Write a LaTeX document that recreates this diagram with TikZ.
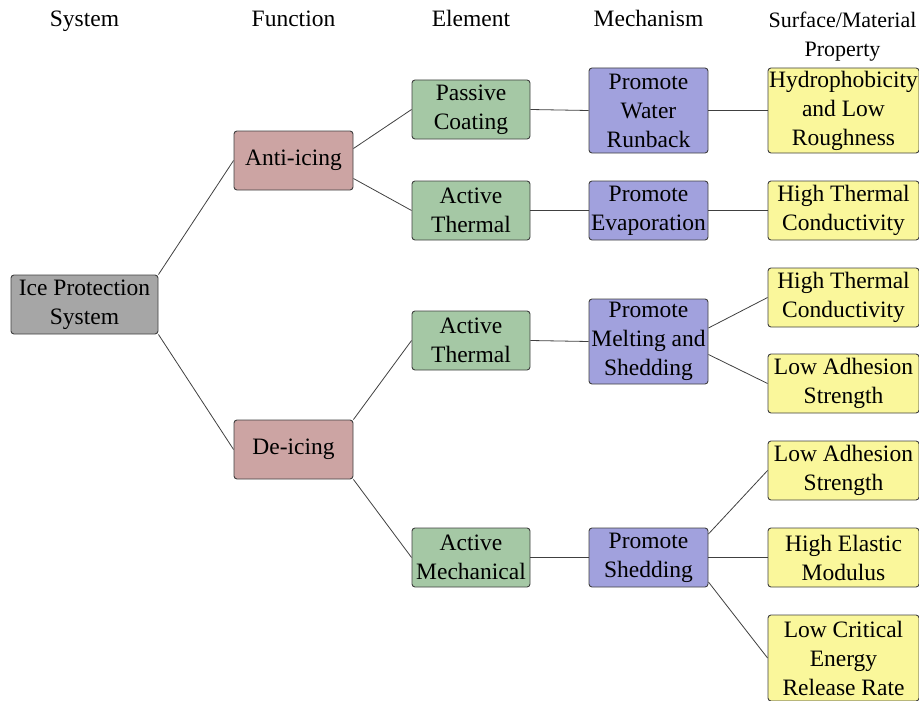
\documentclass[tikz,border=0pt]{standalone}
\usepackage{fontspec}
\setmainfont{Liberation Serif}
\usepackage{tikz}
\usetikzlibrary{positioning}
\definecolor{sysgray}{RGB}{166,166,166}
\definecolor{funcpink}{RGB}{204,164,163}
\definecolor{elemgreen}{RGB}{165,200,165}
\definecolor{mechblue}{RGB}{161,161,221}
\definecolor{propyellow}{RGB}{250,247,155}
\definecolor{edgegray}{RGB}{64,64,64}
\tikzset{
    box/.style={
        draw=edgegray,
        line width=0.9pt,
        rounded corners=3pt,
        inner sep=0pt,
        align=center,
        font=\fontsize{23.5}{29}\selectfont
    },
    % one colour per column
    sysbox/.style={box, fill=sysgray, minimum width=147pt, minimum height=59pt},
    funcbox/.style={box, fill=funcpink, minimum width=119pt, minimum height=59pt},
    elembox/.style={box, fill=elemgreen, minimum width=118pt, minimum height=59pt},
    mechbox/.style={box, fill=mechblue, minimum width=119pt, minimum height=59pt},
    propbox/.style={box, fill=propyellow, minimum width=151pt, minimum height=59pt},
    link/.style={line width=0.8pt, edgegray},
    head/.style={align=center, font=\fontsize{23.5}{29}\selectfont},
    headline/.style={head, text height=16pt, text depth=5pt}
}

\begin{document}
\begin{tikzpicture}[x=1pt,y=-1pt]
   \useasboundingbox (0,0) rectangle (919,701);
   % column titles
   \node[headline] (hsys) at (84.5,21.5) {System};
   \node[headline] (hfunc) at (293.5,21.5) {Function};
   \node[headline] (helem) at (471,21.5) {Element};
   \node[headline] (hmech) at (648.5,21.5) {Mechanism};
   \node[head, font=\fontsize{22}{29}\selectfont] (hprop) at (842.5,37) {Surface/Material\\Property};

   \node[sysbox] (ips) at (84.5,304.5) {Ice Protection\\System};

   \node[funcbox] (anti) at (293.5,160.5) {Anti-icing};
   \node[funcbox] (deice) at (293.5,449.5) {De-icing};

   \node[elembox] (passive) at (471,109.5) {Passive\\Coating};
   \node[elembox] (thermA) at (471,210.5) {Active\\Thermal};
   \node[elembox] (thermD) at (471,340.5) {Active\\Thermal};
   \node[elembox] (mechan) at (471,557.5) {Active\\Mechanical};

   \node[mechbox, minimum height=85pt] (runback) at (648.5,110.5) {Promote\\Water\\Runback};
   \node[mechbox] (evap) at (648.5,210.5) {Promote\\Evaporation};
   \node[mechbox, minimum height=85pt] (melt) at (648.5,341.5) {Promote\\Melting and\\Shedding};
   \node[mechbox] (shed) at (648.5,557.5) {Promote\\Shedding};

   \node[propbox, minimum height=85pt] (hydro) at (843.5,110.5) {Hydrophobicity\\and Low\\Roughness};
   \node[propbox] (condA) at (843.5,210.5) {High Thermal\\Conductivity};
   \node[propbox] (condB) at (843.5,297.5) {High Thermal\\Conductivity};
   \node[propbox] (adhA) at (843.5,383.5) {Low Adhesion\\Strength};
   \node[propbox] (adhB) at (843.5,470.5) {Low Adhesion\\Strength};
   \node[propbox] (elastic) at (843.5,557.5) {High Elastic\\Modulus};
   \node[propbox, minimum height=86pt] (energy) at (843.5,658) {Low Critical\\Energy\\Release Rate};

   % tree links
   \draw[link] (ips.north east) -- (anti.west);
   \draw[link] (ips.south east) -- (deice.west);
   \draw[link] ([yshift=12pt]anti.east) -- (passive.west);
   \draw[link] ([yshift=-18pt]anti.east) -- (thermA.west);
   \draw[link] (deice.north east) -- (thermD.west);
   \draw[link] (deice.south east) -- (mechan.west);
   \draw[link] (passive.east) -- (runback.west);
   \draw[link] (thermA.east) -- (evap.west);
   \draw[link] (thermD.east) -- (melt.west);
   \draw[link] (mechan.east) -- (shed.west);
   \draw[link] (runback.east) -- (hydro.west);
   \draw[link] (evap.east) -- (condA.west);
   \draw[link] ([yshift=13.5pt]melt.east) -- (condB.west);
   \draw[link] ([yshift=-13pt]melt.east) -- (adhA.west);
   \draw[link] ([yshift=23.5pt]shed.east) -- (adhB.west);
   \draw[link] (shed.east) -- (elastic.west);
   \draw[link] ([yshift=-24.5pt]shed.east) -- (energy.west);
\end{tikzpicture}
\end{document}
